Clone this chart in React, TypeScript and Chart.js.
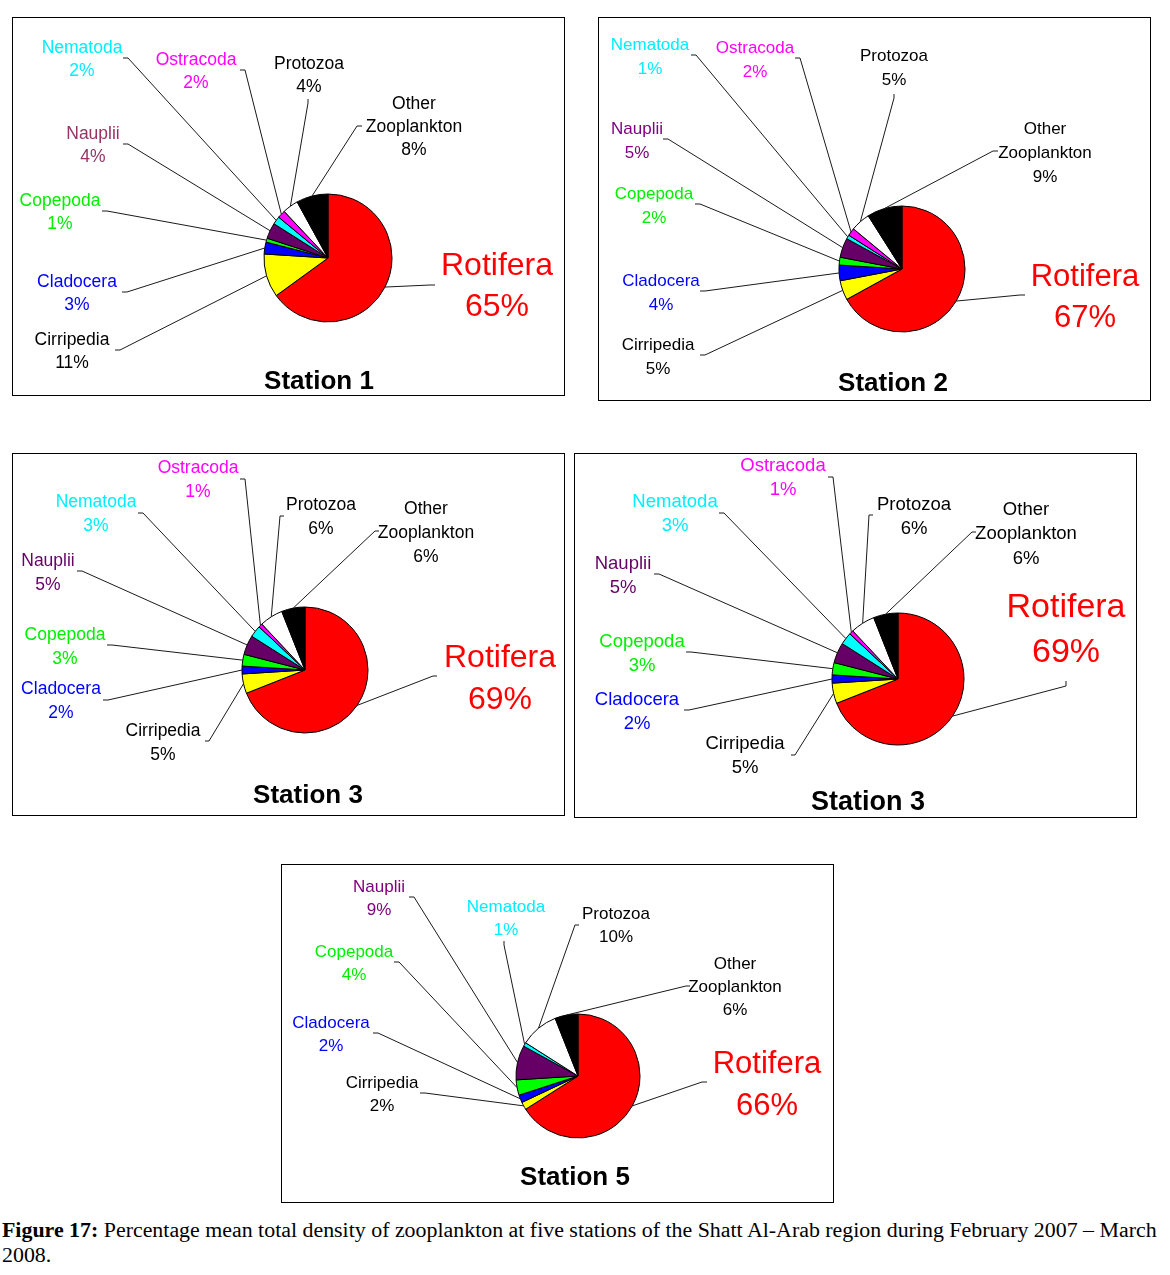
import React, { useEffect, useRef } from "react";
import { Chart, registerables } from "chart.js";

Chart.register(...registerables);

// ---------- DATA ----------
const categories = [
  "Rotifera",
  "Cirripedia",
  "Cladocera",
  "Copepoda",
  "Nauplii",
  "Nematoda",
  "Ostracoda",
  "Protozoa",
  "Other Zooplankton",
];
const station1Values = [65, 11, 3, 1, 4, 2, 2, 4, 8];
const station2Values = [67, 5, 4, 2, 5, 1, 2, 5, 9];
const station3Values = [69, 5, 2, 3, 5, 3, 1, 6, 6];
const station3bValues = [69, 5, 2, 3, 5, 3, 1, 6, 6];
const station5Values = [66, 2, 2, 4, 9, 1, 0, 10, 6];
const stationTitles = ["Station 1", "Station 2", "Station 3", "Station 3", "Station 5"];

// ---------- STYLES ----------
const sliceColors = ["#FF0000", "#FFFF00", "#0000FF", "#00FF00", "#660066", "#00FFFF", "#FF00FF", "#FFFFFF", "#000000"];
const baseLabelColors = ["#FF0000", "#000000", "#0000FF", "#00EE00", "#660066", "#00EEFF", "#FF00FF", "#000000", "#000000"];
const naupliiColors = ["#993366", "#800080", "#660066", "#660066", "#800080"];

type Lbl = { x: number; y: number; a: [number, number]; t: [number, number] };

// label layouts (page coordinates), in category order
const layouts: (Lbl | null)[][] = [
  [
    { x: 497, y: 264, a: [435, 285], t: [-5, 0] },
    { x: 72, y: 339, a: [115, 350], t: [5, 0] },
    { x: 77, y: 281, a: [122, 292], t: [5, 0] },
    { x: 60, y: 200, a: [102, 211], t: [5, 0] },
    { x: 93, y: 133, a: [123, 144], t: [5, 0] },
    { x: 82, y: 47, a: [123, 58], t: [5, 0] },
    { x: 196, y: 59, a: [240, 70], t: [5, 0] },
    { x: 309, y: 63, a: [308, 99], t: [0, 4] },
    { x: 414, y: 103, a: [362, 126], t: [-5, 0] },
  ],
  [
    { x: 1085, y: 275, a: [1025, 295], t: [-5, 0] },
    { x: 658, y: 344, a: [700, 355], t: [5, 0] },
    { x: 661, y: 280, a: [700, 291], t: [5, 0] },
    { x: 654, y: 193, a: [695, 204], t: [5, 0] },
    { x: 637, y: 128, a: [663, 139], t: [5, 0] },
    { x: 650, y: 44, a: [691, 55], t: [5, 0] },
    { x: 755, y: 47, a: [795, 58], t: [5, 0] },
    { x: 894, y: 55, a: [894, 94], t: [0, 4] },
    { x: 1045, y: 128, a: [998, 151], t: [-5, 0] },
  ],
  [
    { x: 500, y: 656, a: [437, 676], t: [-4, 0] },
    { x: 163, y: 730, a: [205, 741], t: [4, 0] },
    { x: 61, y: 688, a: [103, 700], t: [5, 0] },
    { x: 65, y: 634, a: [107, 645], t: [5, 0] },
    { x: 48, y: 560, a: [77, 571], t: [5, 0] },
    { x: 96, y: 501, a: [138, 513], t: [5, 0] },
    { x: 198, y: 467, a: [240, 479], t: [5, 0] },
    { x: 321, y: 504, a: [284, 516], t: [-4, 0] },
    { x: 426, y: 508, a: [379, 531], t: [-4, 0] },
  ],
  [
    { x: 1066, y: 606, a: [1066, 681], t: [0, 5] },
    { x: 745, y: 742, a: [791, 755], t: [4, 0] },
    { x: 637, y: 698, a: [684, 710], t: [5, 0] },
    { x: 642, y: 640, a: [686, 652], t: [5, 0] },
    { x: 623, y: 562, a: [654, 574], t: [5, 0] },
    { x: 675, y: 500, a: [719, 513], t: [5, 0] },
    { x: 783, y: 464, a: [828, 477], t: [5, 0] },
    { x: 914, y: 503, a: [873, 515], t: [-4, 0] },
    { x: 1026, y: 508, a: [976, 532], t: [-4, 0] },
  ],
  [
    { x: 767, y: 1062, a: [707, 1082], t: [-5, 0] },
    { x: 382, y: 1082, a: [420, 1093], t: [5, 0] },
    { x: 331, y: 1022, a: [373, 1033], t: [5, 0] },
    { x: 354, y: 951, a: [394, 962], t: [5, 0] },
    { x: 379, y: 886, a: [409, 897], t: [5, 0] },
    { x: 506, y: 906, a: [504, 941], t: [0, 4] },
    null,
    { x: 616, y: 913, a: [579, 925], t: [-4, 0] },
    { x: 735, y: 963, a: [690, 986], t: [-4, 0] },
  ],
];

type Box = {
  x: number; y: number; w: number; h: number;
  cx: number; cy: number; r: number;
  fs: number; lh: number; bigFs: number; bigLh: number;
  titleFs: number; tx: number; ty: number;
};

const boxes: Box[] = [
  { x: 12, y: 17, w: 553, h: 379, cx: 328, cy: 258, r: 64, fs: 17.5, lh: 23, bigFs: 32, bigLh: 41, titleFs: 26, tx: 319, ty: 380 },
  { x: 598, y: 17, w: 553, h: 384, cx: 902, cy: 269, r: 63, fs: 17, lh: 24, bigFs: 31, bigLh: 41, titleFs: 26, tx: 893, ty: 382 },
  { x: 12, y: 453, w: 553, h: 363, cx: 305, cy: 670, r: 63, fs: 17.5, lh: 24, bigFs: 32, bigLh: 42, titleFs: 26, tx: 308, ty: 794 },
  { x: 574, y: 453, w: 563, h: 365, cx: 898, cy: 679, r: 66, fs: 18.5, lh: 24.5, bigFs: 34, bigLh: 45, titleFs: 27, tx: 868, ty: 801 },
  { x: 281, y: 864, w: 553, h: 339, cx: 578, cy: 1076, r: 62, fs: 17, lh: 23, bigFs: 31, bigLh: 42, titleFs: 26, tx: 575, ty: 1176 },
];

const allValues = [station1Values, station2Values, station3Values, station3bValues, station5Values];
const FONT = "'Liberation Sans', Arial, sans-serif";
const TEXT_DY = 1.5;

function PieBox({ idx }: { idx: number }) {
  const ref = useRef<HTMLCanvasElement | null>(null);
  const b = boxes[idx];
  useEffect(() => {
    if (!ref.current) return;
    const values = allValues[idx];
    const items = categories
      .map((c, i) => ({ c, i, v: values[i] }))
      .filter((d) => d.v > 0);
    const labelColors = baseLabelColors.slice();
    labelColors[4] = naupliiColors[idx];

    const plugin = {
      id: "leaderLabels" + idx,
      afterDatasetsDraw(chart: any) {
        const ctx = chart.ctx as CanvasRenderingContext2D;
        const meta = chart.getDatasetMeta(0);
        ctx.save();
        items.forEach((d, j) => {
          const L = layouts[idx][d.i];
          if (!L) return;
          const arc: any = meta.data[j];
          const p = arc.getProps(["x", "y", "startAngle", "endAngle", "outerRadius"], true);
          const mid = (p.startAngle + p.endAngle) / 2;
          const ex = p.x + Math.cos(mid) * p.outerRadius;
          const ey = p.y + Math.sin(mid) * p.outerRadius;
          const ax = L.a[0] - b.x;
          const ay = L.a[1] - b.y;
          ctx.beginPath();
          ctx.strokeStyle = "#1a1a1a";
          ctx.lineWidth = 1;
          ctx.moveTo(ax, ay);
          ctx.lineTo(ax + L.t[0], ay + L.t[1]);
          ctx.lineTo(ex, ey);
          ctx.stroke();

          const isRot = d.i === 0;
          const lines =
            d.i === 8 ? ["Other", "Zooplankton", d.v + "%"] : [d.c, d.v + "%"];
          const fs = isRot ? b.bigFs : b.fs;
          const lh = isRot ? b.bigLh : b.lh;
          ctx.font = `${fs}px ${FONT}`;
          ctx.fillStyle = labelColors[d.i];
          ctx.textAlign = "center";
          ctx.textBaseline = "middle";
          lines.forEach((t, k) => {
            ctx.fillText(t, L.x - b.x, L.y - b.y + k * lh + TEXT_DY + (isRot ? 0.5 : 0));
          });
        });
        ctx.font = `bold ${b.titleFs}px ${FONT}`;
        ctx.fillStyle = "#000";
        ctx.textAlign = "center";
        ctx.textBaseline = "middle";
        ctx.fillText(stationTitles[idx], b.tx - b.x, b.ty - b.y + 2);
        ctx.restore();
      },
    };

    const chart = new Chart(ref.current, {
      type: "pie",
      data: {
        labels: items.map((d) => d.c),
        datasets: [
          {
            data: items.map((d) => d.v),
            backgroundColor: items.map((d) => sliceColors[d.i]),
            borderColor: "#000000",
            borderWidth: 1,
            radius: b.r,
          } as any,
        ],
      },
      options: {
        responsive: false,
        animation: false,
        events: [],
        layout: {
          padding: {
            left: b.cx - b.r - b.x,
            top: b.cy - b.r - b.y,
            right: b.w - (b.cx + b.r - b.x),
            bottom: b.h - (b.cy + b.r - b.y),
          },
        },
        plugins: {
          legend: { display: false },
          tooltip: { enabled: false },
        },
      } as any,
      plugins: [plugin],
    });
    return () => chart.destroy();
  }, [idx]);

  return (
    <>
      <div
        style={{
          position: "absolute",
          left: b.x,
          top: b.y,
          width: b.w,
          height: b.h,
          border: "1px solid #000",
          boxSizing: "border-box",
        }}
      />
      <canvas
        ref={ref}
        width={b.w}
        height={b.h}
        style={{ position: "absolute", left: b.x, top: b.y, width: b.w, height: b.h, display: "block" }}
      />
    </>
  );
}

export default function App() {
  return (
    <div style={{ position: "absolute", left: 0, top: 0, width: 1170, height: 1275, background: "#fff", overflow: "hidden" }}>
      {boxes.map((_, i) => (
        <PieBox key={i} idx={i} />
      ))}
      <div
        style={{
          position: "absolute",
          left: 2,
          top: 1217,
          fontFamily: "'Liberation Serif', 'Times New Roman', serif",
          fontSize: 21.9,
          lineHeight: "25px",
          whiteSpace: "nowrap",
          color: "#000",
        }}
      >
        <b>Figure 17:</b> Percentage mean total density of zooplankton at five stations of the Shatt Al-Arab region during February 2007 – March
        <br />
        2008.
      </div>
    </div>
  );
}
